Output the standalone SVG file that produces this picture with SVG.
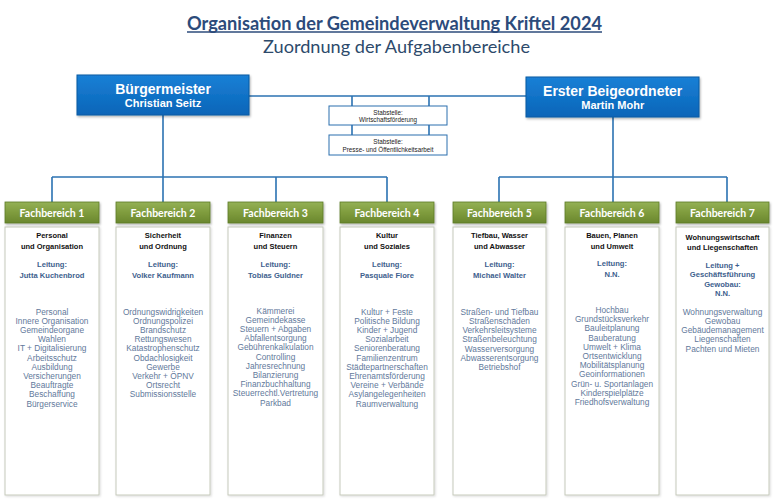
<svg xmlns="http://www.w3.org/2000/svg" width="780" height="504" viewBox="0 0 780 504">
<defs>
<linearGradient id="gBlue" x1="0" y1="0" x2="0" y2="1"><stop offset="0" stop-color="#1a80d6"/><stop offset="1" stop-color="#0865b8"/></linearGradient>
<linearGradient id="gGreen" x1="0" y1="0" x2="0" y2="1"><stop offset="0" stop-color="#94b156"/><stop offset="0.5" stop-color="#7f9c3e"/><stop offset="1" stop-color="#6a872e"/></linearGradient>
<filter id="sh" x="-10%" y="-10%" width="130%" height="140%"><feDropShadow dx="1" dy="1.5" stdDeviation="1.2" flood-color="#000" flood-opacity="0.3"/></filter>
<filter id="sh2" x="-10%" y="-5%" width="130%" height="110%"><feDropShadow dx="1" dy="1" stdDeviation="1" flood-color="#000" flood-opacity="0.15"/></filter>
</defs>
<style>
.lead{fill:url(#gBlue);stroke:#0a5aa2;stroke-width:1;filter:url(#sh)}
.lt1{font-family:"Liberation Sans",Arial,sans-serif;font-weight:bold;font-size:14px;fill:#fff;text-anchor:middle}
.lt2{font-family:"Liberation Sans",Arial,sans-serif;font-weight:bold;font-size:11px;fill:#fff;text-anchor:middle}
.stab{fill:#fff;stroke:#2a6fae;stroke-width:1}
.st{font-family:"Liberation Sans",Arial,sans-serif;font-size:6.3px;fill:#222;text-anchor:middle}
.hd{fill:url(#gGreen);stroke:#5d7c27;stroke-width:0.8;filter:url(#sh)}
.ht{font-family:Lato,"Open Sans",sans-serif;font-weight:bold;font-size:10.5px;fill:#fff;text-anchor:middle}
.bx{fill:#fff;stroke:#c6cabb;stroke-width:1;filter:url(#sh2)}
.h{font-family:"Liberation Sans",Arial,sans-serif;font-weight:bold;font-size:7.5px;fill:#111;text-anchor:middle}
.l{font-family:"Liberation Sans",Arial,sans-serif;font-weight:bold;font-size:7.6px;fill:#3e5f8e;text-anchor:middle}
.i{font-family:"Liberation Sans",Arial,sans-serif;font-size:8.3px;fill:#62799b;text-anchor:middle}
.c{fill:none;stroke:#2b72b2;stroke-width:1.6}
</style>
<rect width="780" height="504" fill="#fff"/>
<g id="title">
<text x="394.5" y="29.5" font-family="Lato,'Open Sans',sans-serif" font-weight="bold" font-size="18" fill="#2c4b7b" text-anchor="middle" textLength="415" lengthAdjust="spacingAndGlyphs">Organisation der Gemeindeverwaltung Kriftel 2024</text>
<line x1="187" y1="32" x2="602" y2="32" stroke="#2c4b7b" stroke-width="1.3"/>
<text x="396.5" y="53" font-family="Lato,'Open Sans',sans-serif" font-size="18" fill="#2d4a6b" text-anchor="middle" textLength="267" lengthAdjust="spacingAndGlyphs">Zuordnung der Aufgabenbereiche</text>
</g>
<g id="connectors">
<path class="c" d="M249 96 H526"/>
<path class="c" d="M163 115 V202"/>
<path class="c" d="M52 177 H387"/>
<path class="c" d="M52 177 V202 M276 177 V202 M387 177 V202"/>
<path class="c" d="M613 117 V202"/>
<path class="c" d="M499 177 H727"/>
<path class="c" d="M499 177 V202 M727 177 V202"/>
<path class="c" d="M352 96 V106 M429 96 V106 M352 125 V135 M429 125 V135"/>
</g>
<g id="buergermeister">
<rect class="lead" x="77" y="75" width="172" height="40"/>
<text class="lt1" x="163" y="94.3">Bürgermeister</text>
<text class="lt2" x="163" y="107.3">Christian Seitz</text>
</g>
<g id="beigeordneter">
<rect class="lead" x="526" y="77" width="173" height="40"/>
<text class="lt1" x="612.7" y="95.7">Erster Beigeordneter</text>
<text class="lt2" x="612.7" y="109.3">Martin Mohr</text>
</g>
<g id="stab1">
<rect class="stab" x="329" y="106" width="118" height="19"/>
<text class="st" x="388" y="114.5">Stabstelle:</text>
<text class="st" x="388" y="121.8">Wirtschaftsförderung</text>
</g>
<g id="stab2">
<rect class="stab" x="329" y="135" width="118" height="20"/>
<text class="st" x="388" y="143.8">Stabstelle:</text>
<text class="st" x="388" y="151.5">Presse- und Öffentlichkeitsarbeit</text>
</g>
<g id="fb1">
<rect class="bx" x="5" y="227" width="94" height="268"/>
<rect class="hd" x="5" y="202" width="94" height="21"/>
<text class="ht" x="52" y="216.5">Fachbereich 1</text>
<text class="h" x="52" y="238">Personal</text>
<text class="h" x="52" y="249">und Organisation</text>
<text class="l" x="52" y="266.5">Leitung:</text>
<text class="l" x="52" y="277.5">Jutta Kuchenbrod</text>
<text class="i" x="52" y="314.5">Personal<tspan x="52" dy="9.2">Innere Organisation</tspan><tspan x="52" dy="9.2">Gemeindeorgane</tspan><tspan x="52" dy="9.2">Wahlen</tspan><tspan x="52" dy="9.2">IT + Digitalisierung</tspan><tspan x="52" dy="9.2">Arbeitsschutz</tspan><tspan x="52" dy="9.2">Ausbildung</tspan><tspan x="52" dy="9.2">Versicherungen</tspan><tspan x="52" dy="9.2">Beauftragte</tspan><tspan x="52" dy="9.2">Beschaffung</tspan><tspan x="52" dy="9.2">Bürgerservice</tspan></text>
</g>
<g id="fb2">
<rect class="bx" x="116" y="227" width="94" height="268"/>
<rect class="hd" x="116" y="202" width="94" height="21"/>
<text class="ht" x="163" y="216.5">Fachbereich 2</text>
<text class="h" x="163" y="238">Sicherheit</text>
<text class="h" x="163" y="249">und Ordnung</text>
<text class="l" x="163" y="266.5">Leitung:</text>
<text class="l" x="163" y="277.5">Volker Kaufmann</text>
<text class="i" x="163" y="314.5">Ordnungswidrigkeiten<tspan x="163" dy="9.2">Ordnungspolizei</tspan><tspan x="163" dy="9.2">Brandschutz</tspan><tspan x="163" dy="9.2">Rettungswesen</tspan><tspan x="163" dy="9.2">Katastrophenschutz</tspan><tspan x="163" dy="9.2">Obdachlosigkeit</tspan><tspan x="163" dy="9.2">Gewerbe</tspan><tspan x="163" dy="9.2">Verkehr + ÖPNV</tspan><tspan x="163" dy="9.2">Ortsrecht</tspan><tspan x="163" dy="9.2">Submissionsstelle</tspan></text>
</g>
<g id="fb3">
<rect class="bx" x="228" y="227" width="95" height="268"/>
<rect class="hd" x="228" y="202" width="95" height="21"/>
<text class="ht" x="275.5" y="216.5">Fachbereich 3</text>
<text class="h" x="275.5" y="238">Finanzen</text>
<text class="h" x="275.5" y="249">und Steuern</text>
<text class="l" x="275.5" y="266.5">Leitung:</text>
<text class="l" x="275.5" y="277.5">Tobias Guldner</text>
<text class="i" x="275.5" y="313.5">Kämmerei<tspan x="275.5" dy="9.2">Gemeindekasse</tspan><tspan x="275.5" dy="9.2">Steuern + Abgaben</tspan><tspan x="275.5" dy="9.2">Abfallentsorgung</tspan><tspan x="275.5" dy="9.2">Gebührenkalkulation</tspan><tspan x="275.5" dy="9.2">Controlling</tspan><tspan x="275.5" dy="9.2">Jahresrechnung</tspan><tspan x="275.5" dy="9.2">Bilanzierung</tspan><tspan x="275.5" dy="9.2">Finanzbuchhaltung</tspan><tspan x="275.5" dy="9.2">Steuerrechtl.Vertretung</tspan><tspan x="275.5" dy="9.2">Parkbad</tspan></text>
</g>
<g id="fb4">
<rect class="bx" x="340" y="227" width="94" height="268"/>
<rect class="hd" x="340" y="202" width="94" height="21"/>
<text class="ht" x="387" y="216.5">Fachbereich 4</text>
<text class="h" x="387" y="238">Kultur</text>
<text class="h" x="387" y="249">und Soziales</text>
<text class="l" x="387" y="266.5">Leitung:</text>
<text class="l" x="387" y="277.5">Pasquale Fiore</text>
<text class="i" x="387" y="314.5">Kultur + Feste<tspan x="387" dy="9.2">Politische Bildung</tspan><tspan x="387" dy="9.2">Kinder + Jugend</tspan><tspan x="387" dy="9.2">Sozialarbeit</tspan><tspan x="387" dy="9.2">Seniorenberatung</tspan><tspan x="387" dy="9.2">Familienzentrum</tspan><tspan x="387" dy="9.2">Städtepartnerschaften</tspan><tspan x="387" dy="9.2">Ehrenamtsförderung</tspan><tspan x="387" dy="9.2">Vereine + Verbände</tspan><tspan x="387" dy="9.2">Asylangelegenheiten</tspan><tspan x="387" dy="9.2">Raumverwaltung</tspan></text>
</g>
<g id="fb5">
<rect class="bx" x="453" y="227" width="93" height="268"/>
<rect class="hd" x="453" y="202" width="93" height="21"/>
<text class="ht" x="499.5" y="216.5">Fachbereich 5</text>
<text class="h" x="499.5" y="238">Tiefbau, Wasser</text>
<text class="h" x="499.5" y="249">und Abwasser</text>
<text class="l" x="499.5" y="266.5">Leitung:</text>
<text class="l" x="499.5" y="277.5">Michael Walter</text>
<text class="i" x="499.5" y="314.5">Straßen- und Tiefbau<tspan x="499.5" dy="9.3">Straßenschäden</tspan><tspan x="499.5" dy="9.3">Verkehrsleitsysteme</tspan><tspan x="499.5" dy="9.3">Straßenbeleuchtung</tspan><tspan x="499.5" dy="9.3">Wasserversorgung</tspan><tspan x="499.5" dy="9.3">Abwasserentsorgung</tspan><tspan x="499.5" dy="9.3">Betriebshof</tspan></text>
</g>
<g id="fb6">
<rect class="bx" x="565" y="227" width="94" height="268"/>
<rect class="hd" x="565" y="202" width="94" height="21"/>
<text class="ht" x="612" y="216.5">Fachbereich 6</text>
<text class="h" x="612" y="238">Bauen, Planen</text>
<text class="h" x="612" y="249">und Umwelt</text>
<text class="l" x="612" y="266">Leitung:</text>
<text class="l" x="612" y="277">N.N.</text>
<text class="i" x="612" y="313">Hochbau<tspan x="612" dy="9.2">Grundstücksverkehr</tspan><tspan x="612" dy="9.2">Bauleitplanung</tspan><tspan x="612" dy="9.2">Bauberatung</tspan><tspan x="612" dy="9.2">Umwelt + Klima</tspan><tspan x="612" dy="9.2">Ortsentwicklung</tspan><tspan x="612" dy="9.2">Mobilitätsplanung</tspan><tspan x="612" dy="9.2">Geoinformationen</tspan><tspan x="612" dy="9.2">Grün- u. Sportanlagen</tspan><tspan x="612" dy="9.2">Kinderspielplätze</tspan><tspan x="612" dy="9.2">Friedhofsverwaltung</tspan></text>
</g>
<g id="fb7">
<rect class="bx" x="676" y="227" width="93" height="268"/>
<rect class="hd" x="676" y="202" width="93" height="21"/>
<text class="ht" x="722.5" y="216.5">Fachbereich 7</text>
<text class="h" x="722.5" y="240">Wohnungswirtschaft</text>
<text class="h" x="722.5" y="250">und Liegenschaften</text>
<text class="l" x="722.5" y="267.5">Leitung +</text>
<text class="l" x="722.5" y="277">Geschäftsführung</text>
<text class="l" x="722.5" y="286.5">Gewobau:</text>
<text class="l" x="722.5" y="296">N.N.</text>
<text class="i" x="722.5" y="314.5">Wohnungsverwaltung<tspan x="722.5" dy="9.3">Gewobau</tspan><tspan x="722.5" dy="9.3">Gebäudemanagement</tspan><tspan x="722.5" dy="9.3">Liegenschaften</tspan><tspan x="722.5" dy="9.3">Pachten und Mieten</tspan></text>
</g>
</svg>
